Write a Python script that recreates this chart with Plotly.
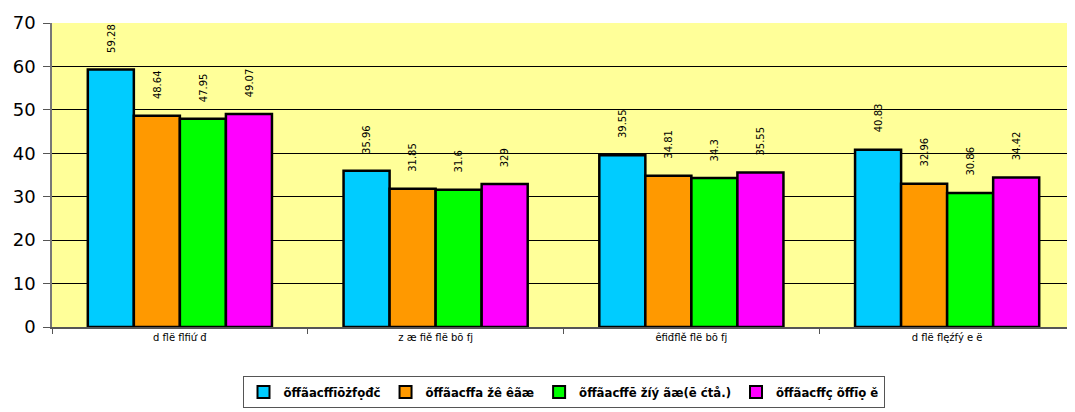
import plotly.graph_objects as go

categories = ["d flë flfiứ đ", "z æ fiě flë bõ fj", "êfiđflě flë bõ fj", "d flë flęźfý e ë"]
series_names = ["õffãacffīōżfọđč", "õffãacffa žê êãæ", "õffãacffē žíý ãæ(ē ćtå.)", "õffãacffç õffīọ ě"]
series_values = [
    [59.28, 35.96, 39.55, 40.83],
    [48.64, 31.85, 34.81, 32.96],
    [47.95, 31.6, 34.3, 30.86],
    [49.07, 32.9, 35.55, 34.42],
]
value_labels = [
    ["59.28", "35.96", "39.55", "40.83"],
    ["48.64", "31.85", "34.81", "32.96"],
    ["47.95", "31.6", "34.3", "30.86"],
    ["49.07", "329", "35.55", "34.42"],
]
colors = ["#00CCFF", "#FF9900", "#00FF00", "#FF00FF"]
y_ticks = [0, 10, 20, 30, 40, 50, 60, 70]

BARGAP = 0.28
n = len(series_values)
bw = (1 - BARGAP) / n

fig = go.Figure()
for k, (name, vals, col) in enumerate(zip(series_names, series_values, colors)):
    fig.add_trace(go.Bar(
        x=categories, y=vals, name=name,
        marker=dict(color=col, line=dict(color="black", width=2.5)),
    ))
    for i, v in enumerate(vals):
        fig.add_annotation(
            x=i + (k - (n - 1) / 2) * bw, y=v, xref="x", yref="y",
            text=value_labels[k][i], textangle=-90, showarrow=False,
            yanchor="bottom", xanchor="center", yshift=15,
            font=dict(family="DejaVu Sans", size=10, color="black"),
        )

fig.update_layout(
    width=1067, height=404,
    margin=dict(l=44, r=0, t=15, b=85),
    paper_bgcolor="white", plot_bgcolor="#FFFF99",
    barmode="group", bargap=BARGAP, bargroupgap=0,
    font=dict(family="DejaVu Sans", color="black"),
    showlegend=True,
    legend=dict(
        orientation="h", x=0.5, xanchor="center", y=-0.161, yanchor="top",
        bordercolor="#555555", borderwidth=1, bgcolor="white",
        font=dict(family="DejaVu Sans Condensed", size=13, color="black", weight="bold"),
        itemsizing="constant", traceorder="normal",
    ),
)
fig.update_xaxes(
    type="category", tickson="boundaries", ticks="outside", ticklen=5,
    tickcolor="#555555", showline=True, linecolor="#555555", linewidth=1.5,
    tickfont=dict(family="DejaVu Sans", size=10, color="black"),
    showgrid=False,
)
fig.update_yaxes(
    range=[0, 70], tickvals=y_ticks, ticks="outside", ticklen=7,
    tickcolor="#555555", showline=True, linecolor="#777777", linewidth=1.5,
    gridcolor="black", gridwidth=1, zeroline=False, ticklabelstandoff=4,
    tickfont=dict(family="DejaVu Sans", size=18, color="black"),
)

fig.write_html("out.html")
